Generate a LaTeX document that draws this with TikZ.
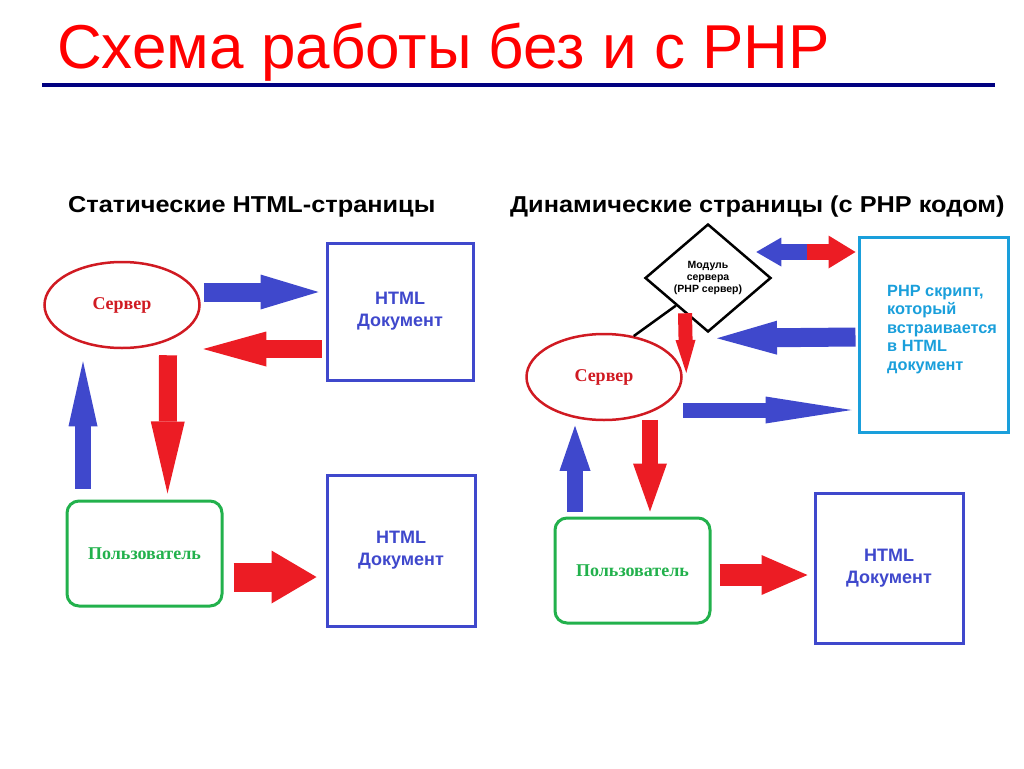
\documentclass[tikz,border=0pt]{standalone}
\usepackage{fontspec}
\setmainfont{Liberation Serif}
\setsansfont{Liberation Sans}
\usetikzlibrary{shapes.geometric, arrows.meta}

\definecolor{arred}{HTML}{EC1C24}
\definecolor{arblue}{HTML}{3F48CC}
\definecolor{srvred}{HTML}{D01A22}
\definecolor{usrgreen}{HTML}{22B14C}
\definecolor{phpcyan}{HTML}{1A9FDB}
\definecolor{rulenavy}{HTML}{000080}

\begin{document}
\begin{tikzpicture}[x=1pt, y=-1pt]

\tikzset{server/.style = {ellipse, draw=srvred, line width=2.5pt, minimum width=155, minimum height=86,
    text=srvred, font=\rmfamily\bfseries\fontsize{18}{20}\selectfont}}
\tikzset{user/.style = {rectangle, rounded corners=12pt, draw=usrgreen, line width=3pt, minimum width=155, minimum height=105,
    text=usrgreen, font=\rmfamily\bfseries\fontsize{18}{20}\selectfont}}
\tikzset{doc/.style = {rectangle, draw=arblue, line width=3pt, align=center,
    text=arblue, font=\sffamily\bfseries\fontsize{18}{22}\selectfont}}
\tikzset{fat/.style args = {#1/#2/#3/#4}{draw=#1, line width=#2, -{Triangle[length=#3, width=#4, line width=0pt]}}}
\tikzset{subtitle/.style = {anchor=base west, inner sep=0, font=\sffamily\bfseries\fontsize{23}{23}\selectfont}}

\useasboundingbox (0,0) rectangle (1024,768);

%title
\node[anchor=base west, text=red, inner sep=0, font=\sffamily\fontsize{62}{62}\selectfont] (title) at (57,68)
    {Схема работы без и с PHP};
\draw[rulenavy, line width=4pt] (42,85) -- (995,85);
\node[subtitle] (left) at (68,212) {\scalebox{1.1}[1]{Статические HTML-страницы}};
\node[subtitle] (right) at (510,212) {\scalebox{1.1}[1]{Динамические страницы (с PHP кодом)}};

%left scheme
\node[server] (srv1) at (122,305) {Сервер};
\node[doc, minimum width=146, minimum height=137] (doc1) at (400,311.5) {HTML\\Документ};
\node[user] (usr1) at (144.5,553.5) {Пользователь};
\node[doc, minimum width=148, minimum height=151] (doc2) at (401,550.5) {HTML\\Документ};

\draw[fat=arblue/19pt/58pt/35pt] ([shift={(3,-13)}]srv1.east) -- ([shift={(-7,-19.5)}]doc1.west);
\draw[fat=arred/18pt/63pt/35pt] ([shift={(-4,37.5)}]doc1.west) -- ([shift={(2.5,44)}]srv1.east);
\draw[fat=arblue/16pt/65pt/29pt] ([shift={(-61.5,-11)}]usr1.north) -- ([shift={(-39,12)}]srv1.south);
\draw[fat=arred/18pt/72pt/34pt] ([shift={(46,6)}]srv1.south) -- ([shift={(23,-6)}]usr1.north);
\draw[fat=arred/29pt/45pt/53pt] ([shift={(10,23.5)}]usr1.east) -- ([shift={(-9,26.5)}]doc2.west);

%right scheme
\node[diamond, draw, line width=2.5pt, minimum width=126, minimum height=108, inner sep=0, align=center,
    font=\sffamily\bfseries\fontsize{10.5}{12}\selectfont] (mod) at (708,278) {Модуль\\сервера\\(PHP сервер)};
\node[server] (srv2) at (604,377) {Сервер};
\node[rectangle, draw=phpcyan, line width=3pt, minimum width=149, minimum height=195] (php) at (933.5,334.5) {};
\node[anchor=north west, inner sep=0, align=left, text=phpcyan, font=\sffamily\bfseries\fontsize{16.3}{18.5}\selectfont] (phptext)
    at (887,285) {PHP скрипт,\\который\\встраивается\\в HTML\\документ};
\node[user] (usr2) at (632.5,570.5) {Пользователь};
\node[doc, minimum width=148, minimum height=150] (doc3) at (889,568) {HTML\\Документ};

\draw[black, line width=2.5pt] (mod.south west) -- (srv2.54);
\coordinate (dbl) at (807,252);
\draw[fat=arblue/16pt/25pt/29pt] (dbl) -- ([shift={(-16,-26)}]mod.east);
\draw[fat=arred/16pt/27pt/33pt] (dbl) -- ([shift={(-2,-82.5)}]php.west);
\draw[fat=arred/14pt/33pt/20pt] ([shift={(-23,-20)}]mod.south) -- ([shift={(3.5,-4)}]srv2.east);
\draw[fat=arblue/19pt/60pt/34pt] ([shift={(-2,2.5)}]php.west) -- ([shift={(9,5)}]mod.south);
\draw[fat=arblue/15pt/86pt/27pt] ([shift={(0.5,33)}]srv2.east) -- ([shift={(-6,75.5)}]php.west);
\draw[fat=arblue/16pt/45pt/31pt] ([shift={(-57.5,-5)}]usr2.north) -- ([shift={(-29,4.5)}]srv2.south);
\draw[fat=arred/16pt/48pt/34pt] ([shift={(46,-1.5)}]srv2.south) -- ([shift={(17.5,-5)}]usr2.north);
\draw[fat=arred/22pt/46pt/40pt] ([shift={(8,4.5)}]usr2.east) -- ([shift={(-6,7)}]doc3.west);

\end{tikzpicture}
\end{document}
